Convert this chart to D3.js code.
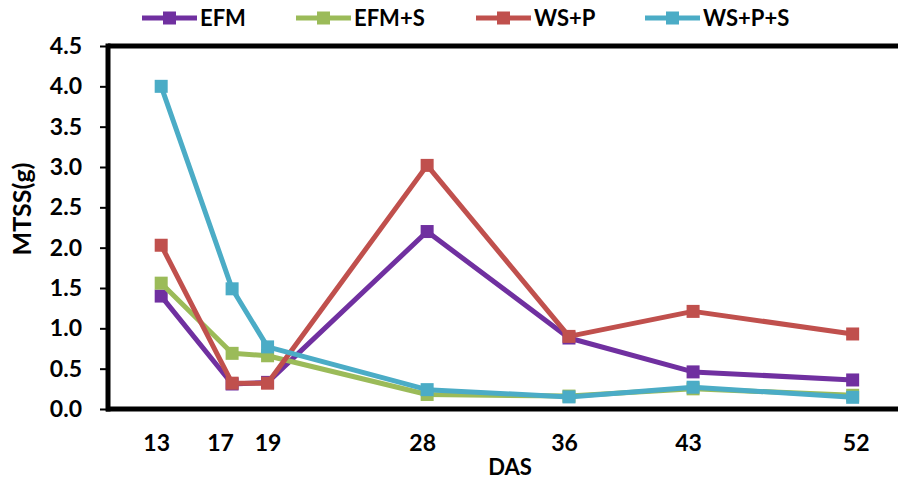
<!DOCTYPE html>
<html>
<head>
<meta charset="utf-8">
<script src="https://cdn.jsdelivr.net/npm/d3@7"></script>
<style>
  html, body { margin: 0; padding: 0; background: #fff; }
  svg { display: block; }
  text { font-family: Lato, "Open Sans", "DejaVu Sans", sans-serif; font-weight: bold; fill: #000; }
</style>
</head>
<body>
<svg id="chart" width="898" height="481"></svg>
<script>
// ---- data ----
const das = [13, 17, 19, 28, 36, 43, 52];
const seriesNames = ["EFM", "EFM+S", "WS+P", "WS+P+S"];
const efm   = [1.40, 0.31, 0.33, 2.20, 0.88, 0.46, 0.36];
const efmS  = [1.56, 0.69, 0.66, 0.18, 0.16, 0.25, 0.17];
const wsP   = [2.03, 0.32, 0.32, 3.02, 0.90, 1.21, 0.93];
const wsPS  = [4.00, 1.49, 0.77, 0.24, 0.15, 0.27, 0.145];
const yTicks = [0, 0.5, 1.0, 1.5, 2.0, 2.5, 3.0, 3.5, 4.0, 4.5];
const colors = ["#7030A0", "#9BBB59", "#C0504D", "#4BACC6"];
const xTitle = "DAS";
const yTitle = "MTSS(g)";

const series = seriesNames.map((name, i) => ({
  name, color: colors[i],
  values: [efm, efmS, wsP, wsPS][i].map((v, j) => ({ x: das[j], y: v }))
}));

// ---- layout ----
const svg = d3.select("#chart");
const mLeft = 108, mTop = 46, mBottom = 409;
const x = d3.scaleLinear().domain([10, 55]).range([mLeft, mLeft + 45 * 17.73]);
const y = d3.scaleLinear().domain([0, 4.5]).range([mBottom, mTop]);

// top border
svg.append("line")
  .attr("x1", mLeft).attr("x2", 898).attr("y1", mTop).attr("y2", mTop)
  .attr("stroke", "#000").attr("stroke-width", 5);

// y axis
const yAxis = svg.append("g").attr("transform", `translate(${mLeft},0)`)
  .call(d3.axisLeft(y).tickValues(yTicks).tickFormat(d3.format(".1f")).tickSize(8).tickPadding(18));
yAxis.select(".domain").attr("stroke", "#000").attr("stroke-width", 5).attr("d", `M0,${mTop - 2.5}V${mBottom + 2.5}`);
yAxis.selectAll(".tick line").attr("stroke", "#000").attr("stroke-width", 2);
yAxis.selectAll(".tick text").style("font-size", "23px").style("font-family", "Lato, sans-serif").style("font-weight", "bold");

// x axis (no ticks)
const xAxis = svg.append("g").attr("transform", `translate(0,${mBottom})`)
  .call(d3.axisBottom(x).tickValues(das).tickSize(0).tickPadding(26));
xAxis.select(".domain").attr("stroke", "#000").attr("stroke-width", 5).attr("d", `M${mLeft - 2},0H898`);
xAxis.selectAll(".tick text").style("font-size", "23px").style("font-family", "Lato, sans-serif").style("font-weight", "bold")
  .attr("dx", d => d === 17 ? -12 : (d === 52 ? 3 : (d === 19 ? 0 : -5)));

// titles
svg.append("text").attr("x", 510).attr("y", 475).attr("text-anchor", "middle")
  .style("font-size", "22px").text(xTitle);
svg.append("text").attr("transform", "translate(31,209) rotate(-90)").attr("text-anchor", "middle")
  .style("font-size", "25px").text(yTitle);

// lines
const line = d3.line().x(d => x(d.x)).y(d => y(d.y));
const g = svg.append("g");
series.forEach(s => {
  g.append("path").datum(s.values).attr("d", line)
    .attr("fill", "none").attr("stroke", s.color).attr("stroke-width", 5)
    .attr("stroke-linejoin", "round");
  g.selectAll(null).data(s.values).enter().append("rect")
    .attr("x", d => x(d.x) - 6.5).attr("y", d => y(d.y) - 6.5)
    .attr("width", 13).attr("height", 13).attr("fill", s.color);
});

// legend
const legendX = [142, 296, 476, 645];
const lg = svg.append("g");
series.forEach((s, i) => {
  const item = lg.append("g").attr("transform", `translate(${legendX[i]},18)`);
  item.append("line").attr("x1", 0).attr("x2", 55).attr("y1", 0).attr("y2", 0)
    .attr("stroke", s.color).attr("stroke-width", 5);
  item.append("rect").attr("x", 21).attr("y", -6.5).attr("width", 13).attr("height", 13).attr("fill", s.color);
  item.append("text").attr("x", 58).attr("y", 8).style("font-size", "22px").text(s.name);
});
</script>
</body>
</html>
